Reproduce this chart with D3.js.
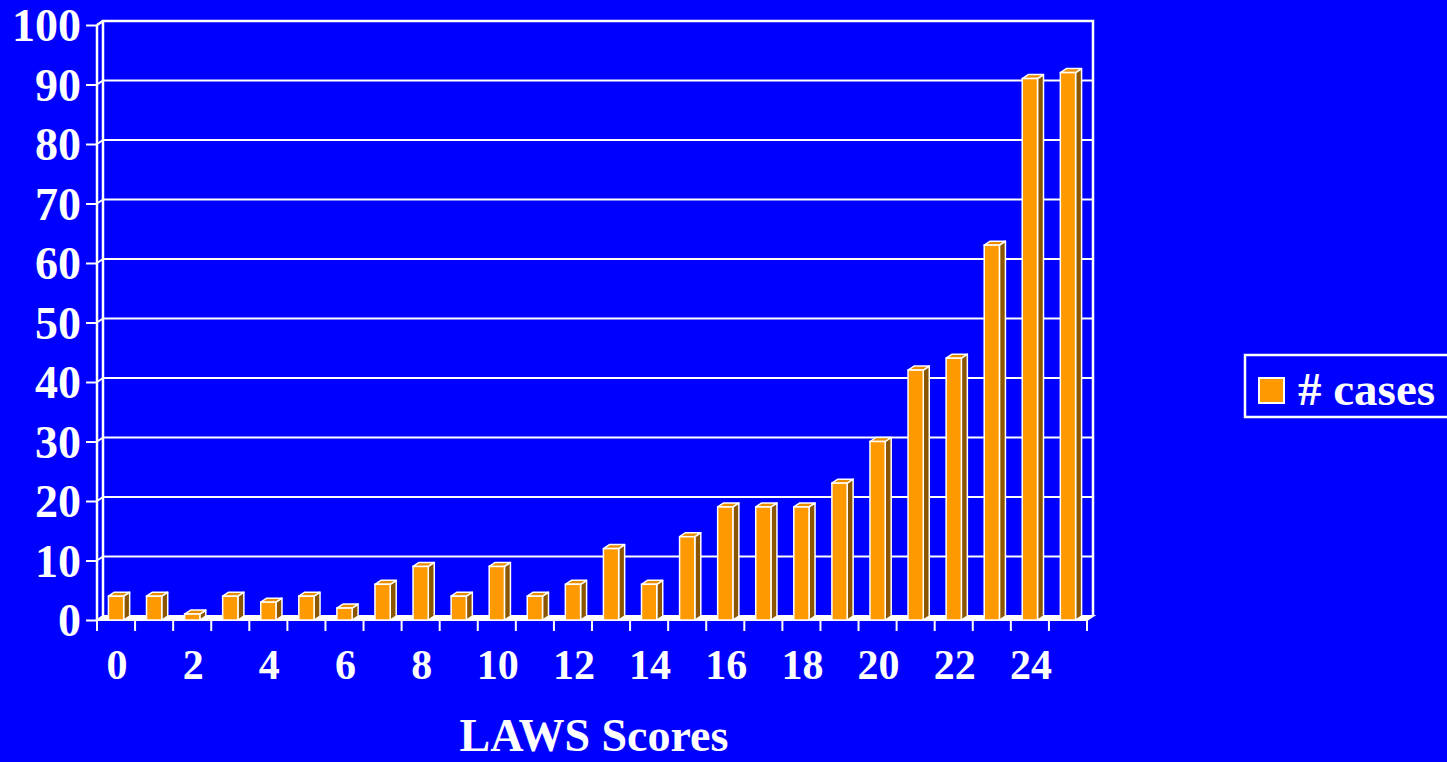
<!DOCTYPE html>
<html>
<head>
<meta charset="utf-8">
<script src="https://cdn.jsdelivr.net/npm/d3@7"></script>
<style>
  html, body { margin: 0; padding: 0; background: #0000FF; }
  svg { display: block; }
  text { font-family: "Liberation Serif", "Times New Roman", serif; font-weight: bold; fill: #FFFFFF; }
</style>
</head>
<body>
<svg id="chart" width="1447" height="762"></svg>
<script>
// LAWS score (0–25) and number of cases at each score
const scores = d3.range(0, 26);
const cases = [4, 4, 1, 4, 3, 4, 2, 6, 9, 4, 9, 4, 6, 12, 6, 14, 19, 19, 19, 23, 30, 42, 44, 63, 91, 92];
const yTicks = [0, 10, 20, 30, 40, 50, 60, 70, 80, 90, 100];
const xTickLabels = [0, 2, 4, 6, 8, 10, 12, 14, 16, 18, 20, 22, 24];
const seriesName = "# cases";
const axisTitle = "LAWS Scores";

const W = 1447, H = 762;
const BG = "#0000FF", ORANGE = "#FF9900", SIDE = "#8B5600", TOP = "#E88C00", WHITE = "#FFFFFF";

const svg = d3.select("#chart");
svg.append("rect").attr("width", W).attr("height", H).attr("fill", BG);

// front plane of the plot
const left = 97, right = 1087, bottom = 620, topY = 25;
// depth offset of the back wall and of each bar
const dx = 6, dy = -4;

const x = d3.scaleBand().domain(scores).range([left, right]).paddingInner(0).paddingOuter(0);
const y = d3.scaleLinear().domain([0, 100]).range([bottom, topY]);

const g = svg.append("g");

// back wall outline
g.append("path")
  .attr("d", `M${left + dx},${bottom + dy} L${left + dx},${topY + dy} L${right + dx},${topY + dy} L${right + dx},${bottom + dy}`)
  .attr("fill", "none").attr("stroke", WHITE).attr("stroke-width", 2.5);

// gridlines on the back wall and on the left wall
yTicks.forEach(v => {
  if (v === 0) return;
  g.append("line")
    .attr("x1", left + dx).attr("x2", right + dx)
    .attr("y1", y(v) + dy).attr("y2", y(v) + dy)
    .attr("stroke", WHITE).attr("stroke-width", 2);
  g.append("line")
    .attr("x1", left).attr("x2", left + dx)
    .attr("y1", y(v)).attr("y2", y(v) + dy)
    .attr("stroke", WHITE).attr("stroke-width", 2);
});

// floor
g.append("path")
  .attr("d", `M${left},${bottom} L${left + dx},${bottom + dy} L${right + dx},${bottom + dy} L${right},${bottom} Z`)
  .attr("fill", WHITE).attr("stroke", WHITE).attr("stroke-width", 2);

// front vertical axis line
g.append("line")
  .attr("x1", left).attr("x2", left).attr("y1", bottom).attr("y2", topY)
  .attr("stroke", WHITE).attr("stroke-width", 2.5);
g.append("line")
  .attr("x1", left).attr("x2", left + dx).attr("y1", topY).attr("y2", topY + dy)
  .attr("stroke", WHITE).attr("stroke-width", 2.5);

// y axis ticks and labels
const yAxis = d3.axisLeft(y).tickValues(yTicks).tickSize(11).tickPadding(6).tickFormat(d3.format("d"));
const yg = svg.append("g").attr("transform", `translate(${left},0)`).call(yAxis);
yg.select(".domain").remove();
yg.selectAll(".tick line").attr("stroke", WHITE).attr("stroke-width", 2);
yg.selectAll(".tick text")
  .attr("font-size", 46).attr("fill", WHITE)
  .attr("font-family", "Liberation Serif, Times New Roman, serif").attr("font-weight", "bold")
  .attr("x", -16).attr("dy", "0.34em");

// x axis ticks at band edges
const xEdges = d3.range(0, scores.length + 1).map(i => left + i * x.bandwidth());
g.selectAll(".xtick").data(xEdges).enter().append("line")
  .attr("x1", d => d).attr("x2", d => d)
  .attr("y1", bottom).attr("y2", bottom + 11)
  .attr("stroke", WHITE).attr("stroke-width", 2);

// x labels on every second score
svg.append("g").selectAll("text").data(xTickLabels).enter().append("text")
  .attr("x", d => x(d) + x.bandwidth() / 2 + 1)
  .attr("y", 679)
  .attr("text-anchor", "middle")
  .attr("font-size", 42)
  .text(d => d);

// bars with 3-D faces
const bw = x.bandwidth() * 0.4;
const bars = g.selectAll(".bar").data(scores).enter().append("g").attr("class", "bar");
bars.each(function(s, i) {
  const v = cases[i];
  const x0 = x(s) + x.bandwidth() / 2 - bw / 2;
  const x1 = x0 + bw;
  const yt = y(v);
  const sel = d3.select(this);
  sel.append("path")
    .attr("d", `M${x1},${yt} L${x1 + dx},${yt + dy} L${x1 + dx},${bottom + dy} L${x1},${bottom} Z`)
    .attr("fill", SIDE).attr("stroke", WHITE).attr("stroke-width", 1.5).attr("stroke-linejoin", "round");
  sel.append("path")
    .attr("d", `M${x0},${yt} L${x0 + dx},${yt + dy} L${x1 + dx},${yt + dy} L${x1},${yt} Z`)
    .attr("fill", TOP).attr("stroke", WHITE).attr("stroke-width", 1.5).attr("stroke-linejoin", "round");
  sel.append("rect")
    .attr("x", x0).attr("y", yt).attr("width", bw).attr("height", bottom - yt)
    .attr("fill", ORANGE).attr("stroke", WHITE).attr("stroke-width", 1.5);
});

// axis title
svg.append("text")
  .attr("x", 594).attr("y", 751)
  .attr("text-anchor", "middle")
  .attr("font-size", 46)
  .text(axisTitle);

// legend
const lg = svg.append("g");
lg.append("rect")
  .attr("x", 1245).attr("y", 355).attr("width", 240).attr("height", 62)
  .attr("fill", BG).attr("stroke", WHITE).attr("stroke-width", 2.5);
lg.append("rect")
  .attr("x", 1259).attr("y", 378).attr("width", 25).attr("height", 25)
  .attr("fill", ORANGE).attr("stroke", WHITE).attr("stroke-width", 2);
lg.append("text")
  .attr("x", 1298).attr("y", 405)
  .attr("font-size", 47)
  .text(seriesName);
</script>
</body>
</html>
